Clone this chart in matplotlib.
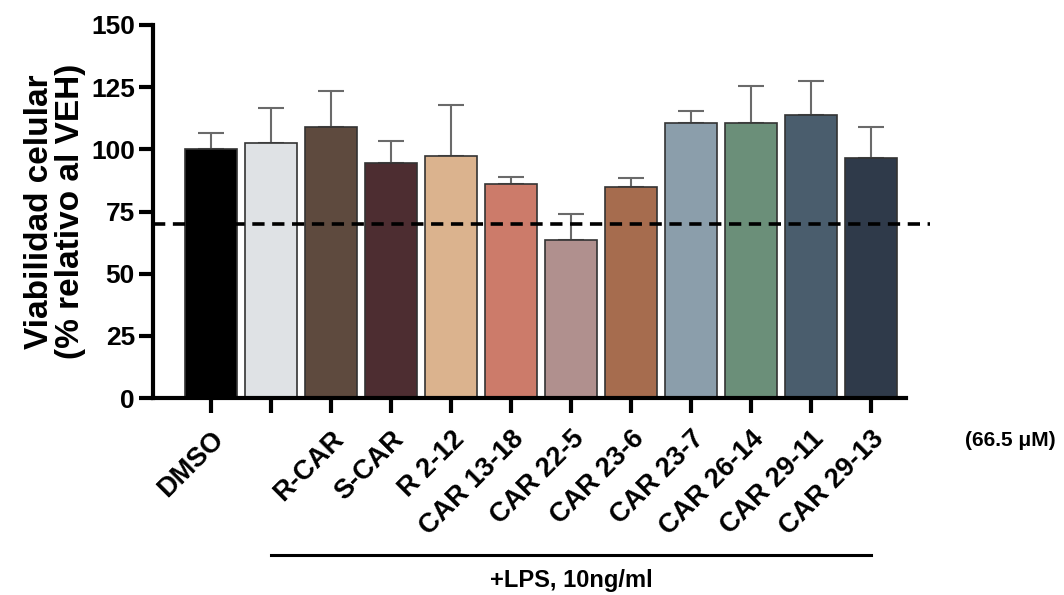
import numpy as np
import matplotlib
matplotlib.use("Agg")
import matplotlib.pyplot as plt

# ──────────────────────────────────────────────
# Data
# ──────────────────────────────────────────────
labels = ["DMSO", "", "R-CAR", "S-CAR", "R 2-12", "CAR 13-18", "CAR 22-5",
          "CAR 23-6", "CAR 23-7", "CAR 26-14", "CAR 29-11", "CAR 29-13"]
means = [100, 102.5, 109, 94.5, 97.5, 86, 63.5, 85, 110.5, 110.5, 114, 96.5]
err_top = [106.5, 116.5, 123.5, 103.5, 118, 89, 74, 88.5, 115.5, 125.5, 127.5, 109]
colors = ["#000000", "#dfe2e5", "#5e4a3e", "#4d2d31", "#dbb38e", "#cc7b6a",
          "#b0908e", "#a66c4e", "#8b9eab", "#6b8f79", "#4a5d6d", "#2f3a4a"]
threshold = 70

plt.rcParams["font.family"] = ["Liberation Sans", "DejaVu Sans"]
plt.rcParams["font.weight"] = "bold"

fig = plt.figure(figsize=(10.64, 5.95), dpi=100)
ax = fig.add_axes([153 / 1064, 1 - 398 / 595, (906 - 153) / 1064, 373 / 595])

x = np.arange(len(means))
yerr = [np.zeros(len(means)), np.array(err_top) - np.array(means)]
ax.bar(x, means, width=0.88, color=colors, edgecolor="#333333", linewidth=1.2, zorder=2)
ax.errorbar(x, means, yerr=yerr, fmt="none", ecolor="#6a6a6a", elinewidth=1.5,
            capsize=9.5, capthick=1.5, zorder=1)

# linea soglia 70%
x_left = (153 - 211) / 60
x_right = (930 - 211) / 60
ax.plot([x_left, x_right], [threshold, threshold], color="black", linestyle=(0, (3.4, 2.1)),
        linewidth=2.6, clip_on=False, zorder=3)

ax.set_xlim(x_left, (906 - 211) / 60)
ax.set_ylim(0, 150)
ax.set_yticks([0, 25, 50, 75, 100, 125, 150])
ax.set_xticks(x)
ax.set_xticklabels(labels, rotation=45, ha="right", rotation_mode="anchor",
                   fontsize=19.5, fontweight="bold")
ax.tick_params(axis="y", labelsize=19, width=3, length=10, pad=3)
ax.tick_params(axis="x", width=3, length=11, pad=9)
for lab in ax.get_yticklabels():
    lab.set_fontweight("bold")

for side in ["top", "right"]:
    ax.spines[side].set_visible(False)
for side in ["left", "bottom"]:
    ax.spines[side].set_linewidth(3)

ax.set_ylabel("Viabilidad celular\n(% relativo al VEH)", fontsize=24,
              fontweight="bold", linespacing=1.0, labelpad=4)

# gruppo +LPS
trans = ax.get_xaxis_transform()
ax.plot([1, 11], [-0.42, -0.42], color="black", linewidth=2.2,
        transform=trans, clip_on=False)
ax.text(6, -0.49, "+LPS, 10ng/ml", transform=trans, ha="center", va="center",
        fontsize=17, fontweight="bold")

fig.text(1010 / 1064, 1 - 440 / 595, "(66.5 μM)", ha="center", va="center",
         fontsize=15, fontweight="bold")

fig.savefig("out.png", dpi=100)
